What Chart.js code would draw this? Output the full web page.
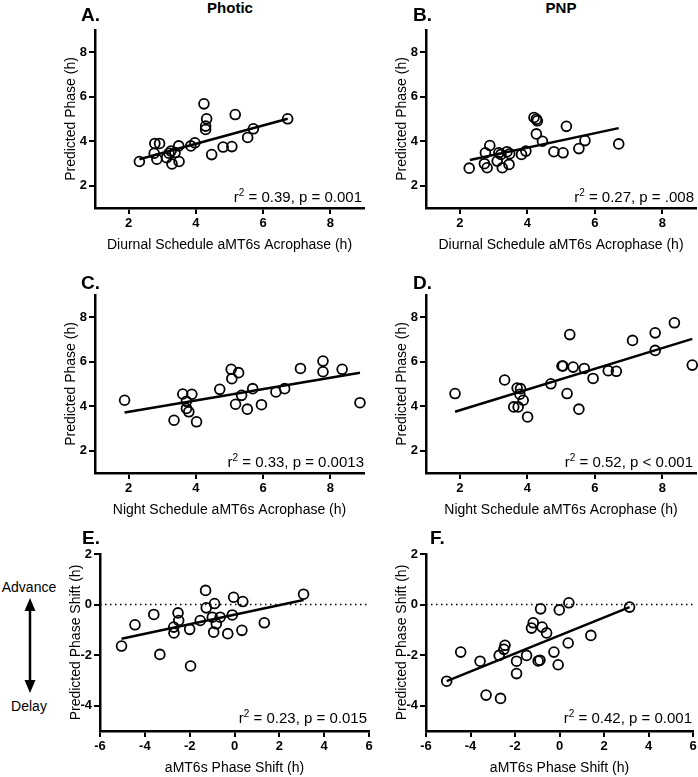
<!DOCTYPE html>
<html>
<head>
<meta charset="utf-8">
<script src="https://cdn.jsdelivr.net/npm/chart.js@4.4.1/dist/chart.umd.min.js"></script>
<style>
  body { margin: 0; width: 698px; height: 777px; position: relative; background: #fff; overflow: hidden;
         font-family: "Liberation Sans", Arial, sans-serif; color: #000; }
  canvas { position: absolute; }
  .lbl { position: absolute; font-weight: bold; font-size: 19px; line-height: 1; }
  .col { position: absolute; font-weight: bold; font-size: 15px; line-height: 1; width: 120px; text-align: center; }
  .stat { position: absolute; font-size: 15px; line-height: 1; white-space: nowrap; text-align: right; }
  .stat sup { font-size: 10px; line-height: 0; vertical-align: 6px; }
  .side { position: absolute; font-size: 14px; line-height: 1; width: 58px; text-align: center; left: 0; }
</style>
</head>
<body>

<div class="col" style="left:170px; top:0px;">Photic</div>
<div class="col" style="left:501px; top:0px;">PNP</div>

<div class="lbl" style="left:81px; top:5px;">A.</div>
<div class="lbl" style="left:413px; top:5px;">B.</div>
<div class="lbl" style="left:81px; top:273px;">C.</div>
<div class="lbl" style="left:413px; top:273px;">D.</div>
<div class="lbl" style="left:82px; top:528px;">E.</div>
<div class="lbl" style="left:430px; top:528px;">F.</div>

<div class="stat" style="right:336px; top:189px;">r<sup>2</sup> = 0.39, p = 0.001</div>
<div class="stat" style="right:4px; top:189px;">r<sup>2</sup> = 0.27, p = .008</div>
<div class="stat" style="right:334px; top:454px;">r<sup>2</sup> = 0.33, p = 0.0013</div>
<div class="stat" style="right:5px; top:454px;">r<sup>2</sup> = 0.52, p &lt; 0.001</div>
<div class="stat" style="right:331px; top:710px;">r<sup>2</sup> = 0.23, p = 0.015</div>
<div class="stat" style="right:6px; top:710px;">r<sup>2</sup> = 0.42, p = 0.001</div>

<div class="side" style="top:580px;">Advance</div>
<div class="side" style="top:699px;">Delay</div>
<svg style="position:absolute; left:20px; top:596px;" width="20" height="100">
  <line x1="10" y1="12" x2="10" y2="87" stroke="#000" stroke-width="2.5"/>
  <polygon points="10,2 4.5,15 15.5,15" fill="#000"/>
  <polygon points="10,97 4.5,84 15.5,84" fill="#000"/>
</svg>

<script>
// tick values
const phaseTicks = [2, 4, 6, 8];
const shiftXTicks = [-6, -4, -2, 0, 2, 4, 6];
const shiftYTicks = [-4, -2, 0, 2];

// A. Photic, diurnal schedule
const aX = [2.32, 2.78, 2.92, 2.76, 2.84, 3.13, 3.20, 3.26, 3.29, 3.38, 3.50, 3.49, 3.85, 3.97, 4.24, 4.32, 4.29, 4.29, 4.47, 4.81, 5.07, 5.17, 5.54, 5.71, 6.73];
const aY = [3.09, 3.90, 3.90, 3.46, 3.19, 3.26, 3.46, 3.56, 2.98, 3.49, 3.09, 3.79, 3.79, 3.93, 5.68, 5.01, 4.68, 4.53, 3.40, 3.74, 3.76, 5.20, 4.17, 4.56, 5.01];
const aFitX = [2.32, 6.73];
const aFitY = [3.19, 5.01];

// B. PNP, diurnal schedule
const bX = [2.28, 2.89, 2.76, 2.73, 2.81, 3.11, 3.16, 3.22, 3.26, 3.40, 3.48, 3.46, 3.83, 3.96, 4.20, 4.27, 4.30, 4.27, 4.45, 4.79, 5.06, 5.16, 5.53, 5.71, 6.71];
const bY = [2.79, 3.81, 3.48, 2.99, 2.81, 3.11, 3.48, 3.41, 2.81, 3.53, 3.44, 2.96, 3.41, 3.56, 5.07, 4.99, 4.92, 4.33, 4.00, 3.53, 3.48, 4.67, 3.67, 4.03, 3.88];
const bFitX = [2.30, 6.71];
const bFitY = [3.16, 4.59];

// C. Photic, night schedule
const cX = [1.88, 3.35, 3.61, 3.72, 3.72, 3.79, 3.88, 4.02, 4.71, 5.05, 5.07, 5.27, 5.18, 5.36, 5.53, 5.69, 5.95, 6.38, 6.64, 7.11, 7.78, 7.78, 8.35, 8.88];
const cY = [4.27, 3.37, 4.55, 4.22, 3.90, 3.75, 4.54, 3.30, 4.76, 5.66, 5.24, 5.51, 4.09, 4.49, 3.87, 4.79, 4.07, 4.64, 4.79, 5.70, 6.03, 5.55, 5.66, 4.16];
const cFitX = [1.88, 8.88];
const cFitY = [3.72, 5.51];

// D. PNP, night schedule
const dX = [1.86, 3.33, 3.60, 3.73, 3.70, 3.80, 3.78, 3.88, 4.01, 4.70, 5.03, 5.06, 5.26, 5.18, 5.36, 5.53, 5.69, 5.95, 6.40, 6.64, 7.12, 7.79, 7.79, 8.36, 8.89];
const dY = [4.57, 5.18, 3.97, 3.97, 4.82, 4.79, 4.54, 4.27, 3.52, 5.01, 5.81, 5.81, 7.22, 4.57, 5.76, 3.87, 5.70, 5.25, 5.60, 5.57, 6.96, 7.30, 6.51, 7.75, 5.85];
const dFitX = [1.86, 8.89];
const dFitY = [3.75, 7.03];

// E. Photic, phase shift
const eX = [-5.04, -4.44, -3.60, -3.33, -2.52, -2.49, -2.71, -2.70, -2.00, -1.96, -1.53, -1.29, -1.26, -0.99, -0.89, -0.93, -0.81, -0.64, -0.30, -0.10, -0.04, 0.37, 0.33, 1.33, 3.08];
const eY = [-1.64, -0.80, -0.39, -1.97, -0.33, -0.63, -0.89, -1.12, -0.98, -2.43, -0.63, 0.56, -0.13, -0.50, 0.04, -1.09, -0.76, -0.50, -1.15, -0.41, 0.29, 0.12, -1.02, -0.72, 0.41];
const eFitX = [-5.04, 3.08];
const eFitY = [-1.35, 0.18];

// F. PNP, phase shift
const fX = [-5.07, -4.44, -3.57, -3.30, -2.65, -2.71, -2.50, -2.45, -1.93, -1.93, -1.48, -1.26, -1.18, -0.78, -0.58, -0.85, -0.96, -0.88, -0.25, -0.06, -0.01, 0.42, 0.39, 1.41, 3.15];
const fY = [-3.03, -1.88, -2.24, -3.58, -3.71, -2.01, -1.77, -1.61, -2.24, -2.73, -2.01, -0.93, -0.72, -0.89, -1.12, -0.17, -2.23, -2.20, -1.88, -2.38, -0.21, 0.07, -1.52, -1.22, -0.10];
const fFitX = [-5.07, 3.15];
const fFitY = [-3.03, -0.10];

// dotted zero reference
const zeroX = [-6, 6];
const zeroY = [0, 0];

const FONT = '"Liberation Sans", Arial, sans-serif';
const pts = (xs, ys) => xs.map((x, i) => ({ x: x, y: ys[i] }));

function makePanel(p) {
  var Wy = 32, padTop = 10, padRight = 8, Hx = 46;
  var W = Wy + (p.right - p.left) + padRight;
  var H = padTop + (p.bottom - p.top) + Hx;
  var c = document.createElement('canvas');
  c.width = W; c.height = H;
  c.style.width = W + 'px'; c.style.height = H + 'px';
  c.style.left = (p.left - Wy) + 'px';
  c.style.top = (p.top - padTop) + 'px';
  document.body.insertBefore(c, document.body.firstChild);

  var datasets = [
    { data: pts(p.xs, p.ys), pointRadius: 4.9, pointBorderWidth: 1.8, borderColor: '#000',
      backgroundColor: 'rgba(0,0,0,0)', pointHoverRadius: 4.9, clip: false },
    { data: pts(p.fitX, p.fitY), showLine: true, borderColor: '#000', borderWidth: 2.5,
      pointRadius: 0, clip: false }
  ];
  if (p.zero) {
    datasets.push({ data: pts(zeroX, zeroY), showLine: true, borderColor: '#000', borderWidth: 1.5,
      borderDash: [1.5, 3.5], pointRadius: 0, clip: false });
  }

  var axis = function (min, max, ticks, title, vertical) {
    return {
      type: 'linear', min: min, max: max,
      afterBuildTicks: function (s) { s.ticks = ticks.map(function (v) { return { value: v }; }); },
      afterFit: function (s) { if (vertical) s.width = Wy; else s.height = Hx; },
      grid: { display: true, drawOnChartArea: false, drawTicks: true, tickLength: 6, color: '#000', lineWidth: 2 },
      border: { display: true, color: '#000', width: 2.5 },
      ticks: { color: '#000', padding: 2, autoSkip: false, maxRotation: 0,
               font: { family: FONT, size: 13, weight: 'bold' } },
      title: { display: true, text: title, color: '#000', padding: { top: 0, bottom: 0 },
               font: { family: FONT, size: 14 } }
    };
  };

  new Chart(c, {
    type: 'scatter',
    data: { datasets: datasets },
    options: {
      responsive: false,
      animation: false,
      devicePixelRatio: 1,
      layout: { padding: { top: padTop, right: padRight, left: 0, bottom: 0 } },
      plugins: { legend: { display: false }, tooltip: { enabled: false } },
      scales: {
        x: axis(p.xMin, p.xMax, p.xTicks, p.xTitle, false),
        y: axis(p.yMin, p.yMax, p.yTicks, p.yTitle, true)
      }
    }
  });
}

const diurnalTitle = 'Diurnal Schedule aMT6s Acrophase (h)';
const nightTitle = 'Night Schedule aMT6s Acrophase (h)';
const shiftTitle = 'aMT6s Phase Shift (h)';

makePanel({ left: 95, right: 364, top: 30, bottom: 208, xs: aX, ys: aY, fitX: aFitX, fitY: aFitY,
  xMin: 1, xMax: 9, yMin: 1, yMax: 9, xTicks: phaseTicks, yTicks: phaseTicks,
  xTitle: diurnalTitle, yTitle: 'Predicted Phase (h)' });
makePanel({ left: 426, right: 696, top: 30, bottom: 208, xs: bX, ys: bY, fitX: bFitX, fitY: bFitY,
  xMin: 1, xMax: 9, yMin: 1, yMax: 9, xTicks: phaseTicks, yTicks: phaseTicks,
  xTitle: diurnalTitle, yTitle: 'Predicted Phase (h)' });
makePanel({ left: 95, right: 364, top: 295, bottom: 473, xs: cX, ys: cY, fitX: cFitX, fitY: cFitY,
  xMin: 1, xMax: 9, yMin: 1, yMax: 9, xTicks: phaseTicks, yTicks: phaseTicks,
  xTitle: nightTitle, yTitle: 'Predicted Phase (h)' });
makePanel({ left: 426, right: 696, top: 295, bottom: 473, xs: dX, ys: dY, fitX: dFitX, fitY: dFitY,
  xMin: 1, xMax: 9, yMin: 1, yMax: 9, xTicks: phaseTicks, yTicks: phaseTicks,
  xTitle: nightTitle, yTitle: 'Predicted Phase (h)' });
makePanel({ left: 100, right: 369, top: 554, bottom: 731, xs: eX, ys: eY, fitX: eFitX, fitY: eFitY, zero: true,
  xMin: -6, xMax: 6, yMin: -5, yMax: 2, xTicks: shiftXTicks, yTicks: shiftYTicks,
  xTitle: shiftTitle, yTitle: 'Predicted Phase Shift (h)' });
makePanel({ left: 426, right: 693, top: 554, bottom: 731, xs: fX, ys: fY, fitX: fFitX, fitY: fFitY, zero: true,
  xMin: -6, xMax: 6, yMin: -5, yMax: 2, xTicks: shiftXTicks, yTicks: shiftYTicks,
  xTitle: shiftTitle, yTitle: 'Predicted Phase Shift (h)' });
</script>
</body>
</html>
